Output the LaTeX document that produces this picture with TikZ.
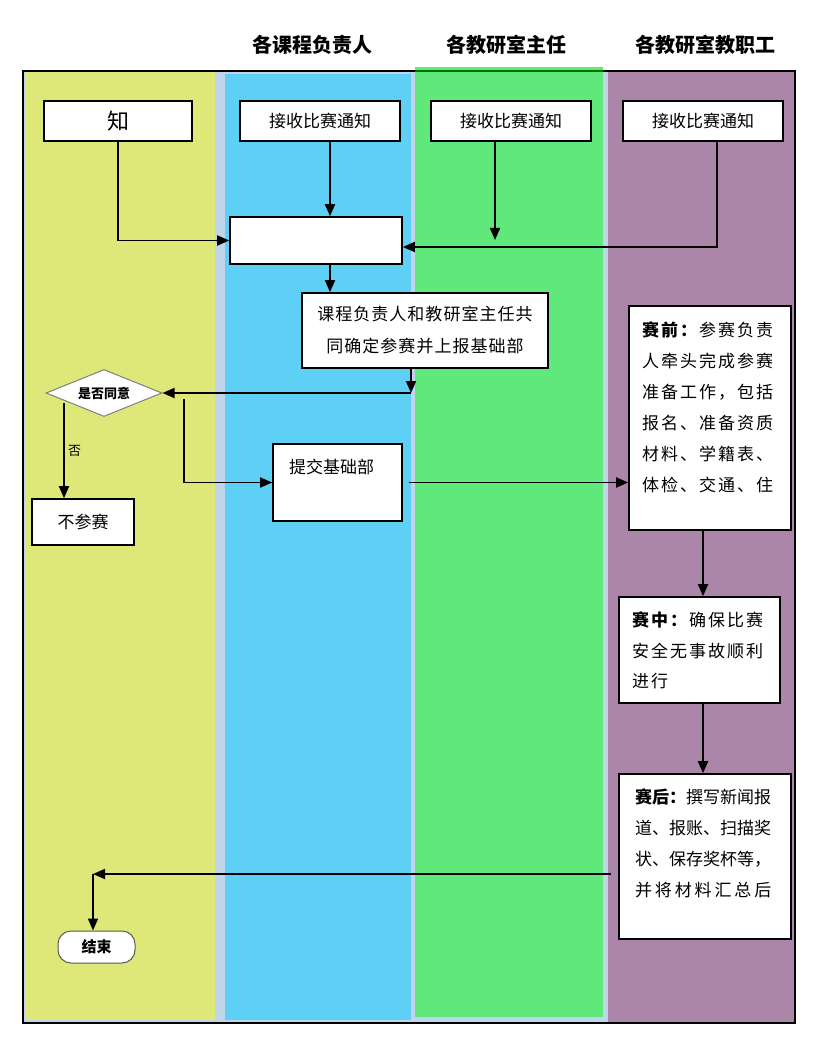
\documentclass[tikz,border=0pt]{standalone}
\usepackage{fontspec}
\setmainfont{Noto Sans CJK SC}
\usetikzlibrary{arrows.meta,shapes.geometric}
\definecolor{laneY}{RGB}{221,232,120}
\definecolor{laneC}{RGB}{94,208,245}
\definecolor{laneG}{RGB}{96,232,122}
\definecolor{laneP}{RGB}{171,134,168}
\definecolor{laneGap}{RGB}{192,212,234}

\begin{document}
\begin{tikzpicture}
  [x=1pt,y=-1pt,
   box/.style={draw,line width=1.6pt,fill=white,inner sep=0pt,font=\fontsize{17}{31}\selectfont},
   arr/.style={line width=1.8pt,-{Triangle[length=12pt,width=10pt]}},
   head/.style={font=\bfseries\fontsize{20}{24}\selectfont}]
  \useasboundingbox (0,0) rectangle (831,1056);

  % lanes
  \fill[laneGap] (23,71) rectangle (795,1023);
  \fill[laneY] (25,71) rectangle (215,1020);
  \fill[laneC] (225,74) rectangle (411,1020);
  \fill[laneG] (415,67) rectangle (603,1017);
  \fill[laneP] (608,71) rectangle (795,1023);
  \draw[line width=2pt] (23,71) rectangle (795,1023);
  \draw[line width=2pt,green!45!black] (415,71) -- (603,71);

  \node[head] (h1) at (312,45) {各课程负责人};
  \node[head] (h2) at (506,45) {各教研室主任};
  \node[head] (h3) at (705,45) {各教研室教职工};

  \node[box,minimum width=148pt,minimum height=40pt,font=\fontsize{22}{24}\selectfont] (zhi) at (118,121) {知};
  \node[box,minimum width=160pt,minimum height=40pt] (r1) at (320,121) {接收比赛通知};
  \node[box,minimum width=160pt,minimum height=40pt] (r2) at (511,121) {接收比赛通知};
  \node[box,minimum width=160pt,minimum height=40pt] (r3) at (703,121) {接收比赛通知};
  \node[box,minimum width=172pt,minimum height=47pt] (blank) at (316,240.5) {};
  \node[box,minimum width=246pt,minimum height=75pt,align=center,
        font=\fontsize{17}{32}\selectfont\addfontfeature{LetterSpace=6}] (joint) at (425,330.5)
        {课程负责人和教研室主任共\\同确定参赛并上报基础部};

  \node[diamond,draw=gray,line width=1pt,fill=white,aspect=2.5,inner sep=0pt,
        minimum width=116pt,minimum height=47pt,font=\bfseries\fontsize{13}{15}\selectfont] (ask) at (104,393) {是否同意};
  \node[box,minimum width=102pt,minimum height=46pt] (no) at (83,522) {不参赛};
  \node[box,inner xsep=16pt,inner ysep=15pt] (sub) at (337.5,482.5)
        {\parbox[c][47pt][t]{97pt}{提交基础部}};

  \node[box,inner xsep=13pt,inner ysep=16pt] (pre) at (710,418)
        {\parbox[c][192pt][t]{136pt}{\addfontfeature{LetterSpace=12}\textbf{赛前：}参赛负责\\
         人牵头完成参赛\\准备工作，包括\\报名、准备资质\\材料、学籍表、\\体检、交通、住}};
  \node[box,inner xsep=13pt,inner ysep=15pt] (mid) at (699.5,650)
        {\parbox[c][76pt][t]{135pt}{\fontsize{17}{30.5}\selectfont\addfontfeature{LetterSpace=12}\textbf{赛中：}确保比赛\\
         安全无事故顺利\\进行}};
  \node[box,inner xsep=16pt,inner ysep=15pt] (post) at (705,856.5)
        {\parbox[c][135pt][t]{140pt}{\textbf{赛后：}撰写新闻报\\道、报账、扫描奖\\
         状、保存奖杯等，\\{\addfontfeature{LetterSpace=17}并将材料汇总后}}};

  \node[draw=gray!70!black,line width=1pt,fill=white,rounded corners=13pt,
        minimum width=77pt,minimum height=32pt,font=\bfseries\fontsize{15}{17}\selectfont] (fin) at (96.5,947) {结束};

  % connectors
  \coordinate (c1) at (330,0);
  \coordinate (c2) at (495,240);
  \coordinate (c3) at (717,247);
  \coordinate (c4) at (411,393);
  \coordinate (c5) at (184,399);
  \coordinate (c6) at (64,403);
  \coordinate (c7) at (703,0);
  \coordinate (c8) at (93,874);

  \draw[arr] (zhi.south) |- (blank.west);
  \draw[arr] (r1.south -| c1) -- (blank.north -| c1);
  \draw[arr] (r2.south -| c2) -- (c2);
  \draw[arr] (r3.south -| c3) -- (c3) -- (c3 -| blank.east);
  \draw[arr] (blank.south -| c1) -- (joint.north -| c1);
  \draw[arr] (joint.south -| c4) -- (c4);
  \draw[arr] (c4) -- (ask.east);
  \draw[arr] (c5) |- (sub.west);
  \draw[arr] (c6) -- node[right,font=\fontsize{13}{14}\selectfont] (fou) {否} (no.north -| c6);
  \draw[arr] ([xshift=6pt]sub.east) -- (sub.east -| pre.west);
  \draw[arr] (pre.south -| c7) -- (mid.north -| c7);
  \draw[arr] (mid.south -| c7) -- (post.north -| c7);
  \draw[arr] ([xshift=-7pt]post.west |- c8) -- (c8);
  \draw[arr] (c8) -- (fin.north -| c8);

\end{tikzpicture}
\end{document}
